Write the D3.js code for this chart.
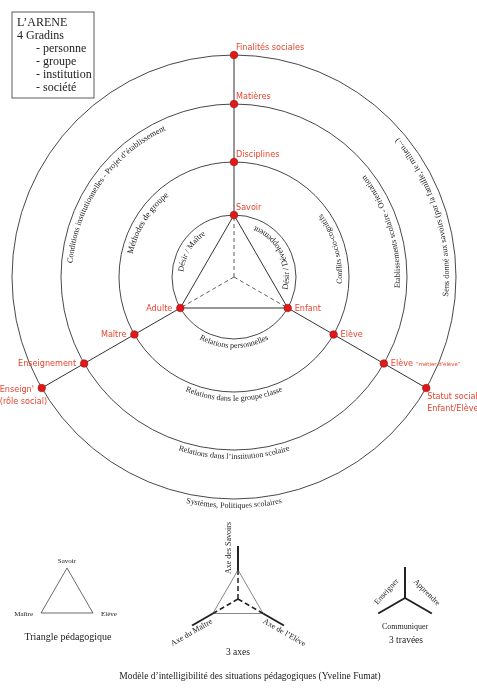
<!DOCTYPE html>
<html>
<head>
<meta charset="utf-8">
<script src="https://cdn.jsdelivr.net/npm/d3@7"></script>
<style>
  body { margin: 0; background: #fff; }
  svg { display: block; will-change: transform; }
  .serif { font-family: "Liberation Serif", "Times New Roman", serif; fill: #222; }
  .pole { font-family: "DejaVu Sans", sans-serif; fill: #e8432d; }
</style>
</head>
<body>
<svg id="chart" width="477" height="689"></svg>
<script>
// gradins (rings) and the three axes
const gradins = ["personne", "groupe", "institution", "société"];
const axes = ["Savoir", "Elève", "Maître"];

// pole labels, one per gradin, for each axis
const poleSavoir = ["Savoir", "Disciplines", "Matières", "Finalités sociales"];
const poleEleve = ["Enfant", "Elève", "Elève", "Statut social"];
const poleMaitre = ["Adulte", "Maître", "Enseignement", "Enseign'"];
const sousEleve = ["", "", "“métier d'élève”", "Enfant/Elève"];
const sousMaitre = ["", "", "", "(rôle social)"];

// texts written along the rings
const arcGauche = ["Désir / Maître", "Méthodes de groupe", "Conditions institutionnelles - Projet d’établissement", ""];
const arcDroite = ["Désir / Développement", "Conflits socio-cognitifs", "Etablissements scolaire - Orientation", "Sens donné aux savoirs (par la famille, le milieu...)"];
const arcBas = ["Relations personnelles", "Relations dans le groupe classe", "Relations dans l’institution scolaire", "Systèmes, Politiques scolaires"];

const legendeTitre = ["L’ARENE", "4 Gradins"];
const triangleLabels = ["Savoir", "Elève", "Maître"];
const axesLabels = ["Axe des Savoirs", "Axe de l’Elève", "Axe du Maître"];
const traveesLabels = ["Apprendre", "Communiquer", "Enseigner"];
const legendes = ["Triangle pédagogique", "3 axes", "3 travées"];
const titre = "Modèle d’intelligibilité des situations pédagogiques (Yveline Fumat)";

const svg = d3.select("#chart");
const cx = 234, cy = 277;

const rScale = d3.scaleOrdinal().domain(gradins).range([62, 115, 173, 222]);
const aScale = d3.scaleOrdinal().domain(axes).range([-90, 30, 150]);
const rad = d => d * Math.PI / 180;
const pt = (r, deg, x0 = cx, y0 = cy) => [x0 + r * Math.cos(rad(deg)), y0 + r * Math.sin(rad(deg))];

// rings
svg.selectAll("circle.ring").data(gradins).join("circle")
  .attr("class", "ring")
  .attr("cx", cx).attr("cy", cy).attr("r", d => rScale(d))
  .attr("fill", "none").attr("stroke", "#333").attr("stroke-width", 0.9);

// radial lines from inner to outer ring
svg.selectAll("line.axe").data(axes).join("line")
  .attr("class", "axe")
  .attr("x1", d => pt(rScale(gradins[0]), aScale(d))[0])
  .attr("y1", d => pt(rScale(gradins[0]), aScale(d))[1])
  .attr("x2", d => pt(rScale(gradins[3]), aScale(d))[0])
  .attr("y2", d => pt(rScale(gradins[3]), aScale(d))[1])
  .attr("stroke", "#333").attr("stroke-width", 1);

// dashed lines to the centre
svg.selectAll("line.dash").data(axes).join("line")
  .attr("class", "dash")
  .attr("x1", cx).attr("y1", cy)
  .attr("x2", d => pt(rScale(gradins[0]), aScale(d))[0])
  .attr("y2", d => pt(rScale(gradins[0]), aScale(d))[1])
  .attr("stroke", "#333").attr("stroke-width", 0.8).attr("stroke-dasharray", "4,3");

// inner triangle
svg.append("path")
  .attr("d", d3.line()(axes.map(a => pt(rScale(gradins[0]), aScale(a)))) + "Z")
  .attr("fill", "none").attr("stroke", "#333").attr("stroke-width", 1);

// ring texts
const defs = svg.append("defs");
function arcText(id, r, mid, half, ccw, txt, size) {
  if (!txt) return;
  const p = d3.path();
  const a0 = ccw ? mid + half : mid - half;
  const a1 = ccw ? mid - half : mid + half;
  p.arc(cx, cy, r, rad(a0), rad(a1), ccw);
  defs.append("path").attr("id", id).attr("d", p.toString());
  svg.append("text").attr("class", "serif").attr("font-size", size)
    .append("textPath").attr("href", "#" + id)
    .attr("startOffset", "50%").attr("text-anchor", "middle")
    .text(txt);
}
const midGauche = [211, 212, 215, 215];
const midDroite = [-27, -16, -17, -17.5];
const sizeGauche = [8, 8.6, 8.2, 8];
const sizeDroite = [8.4, 7.9, 8.2, 8.4];
gradins.forEach((gname, i) => {
  const r = rScale(gname);
  arcText("g" + i, r - 11, midGauche[i], 80, false, arcGauche[i], sizeGauche[i]);
  arcText("d" + i, r - 7, midDroite[i], 80, true, arcDroite[i], sizeDroite[i]);
  arcText("b" + i, r + 9, 90, 55, true, arcBas[i], 8);
});

// pole dots and labels
const poleLists = [poleSavoir, poleEleve, poleMaitre];
const sousLists = [["", "", "", ""], sousEleve, sousMaitre];
const nodes = axes.flatMap((a, i) => gradins.map((gname, j) => {
  const [x, y] = pt(rScale(gname), aScale(a));
  return { axe: a, j, x, y, label: poleLists[i][j], sous: sousLists[i][j] };
}));

svg.selectAll("circle.dot").data(nodes).join("circle")
  .attr("class", "dot")
  .attr("cx", d => d.x).attr("cy", d => d.y).attr("r", 3.8)
  .attr("fill", "#e0191b").attr("stroke", "#9a1010").attr("stroke-width", 0.6);

const place = {
  "Savoir": j => ({ dx: 2, dy: -5, anchor: "start" }),
  "Elève": j => j === 3 ? { dx: 1, dy: 11, anchor: "start" } : { dx: 7, dy: 2.5, anchor: "start" },
  "Maître": j => j === 3 ? { dx: -42, dy: 4, anchor: "start" } : { dx: -8, dy: 2.5, anchor: "end" }
};
nodes.forEach(d => {
  const o = place[d.axe](d.j);
  const t = svg.append("text").attr("class", "pole").attr("font-size", 8.1)
    .attr("x", d.x + o.dx).attr("y", d.y + o.dy).attr("text-anchor", o.anchor);
  t.append("tspan").text(d.label);
  if (d.sous && d.j === 2) {
    t.append("tspan").attr("font-size", 5.4).attr("dx", 3).text(d.sous);
  } else if (d.sous) {
    t.append("tspan").attr("x", d.x + o.dx).attr("dy", 12).text(d.sous);
  }
});

// legend box
svg.append("rect").attr("x", 12).attr("y", 12).attr("width", 82).attr("height", 86)
  .attr("fill", "#fff").attr("stroke", "#333").attr("stroke-width", 0.8);
const leg = legendeTitre.map(t => ({ t, x: 17 })).concat(gradins.map(t => ({ t: "- " + t, x: 36 })));
svg.selectAll("text.leg").data(leg).join("text")
  .attr("class", "serif leg").attr("font-size", 12)
  .attr("x", d => d.x).attr("y", (d, i) => 26 + i * 13)
  .text(d => d.t);

// small figure 1: triangle pédagogique
const t1 = [67, 598], t2 = [238, 599], t3 = [405, 598];
svg.append("path")
  .attr("d", d3.line()(axes.map(a => pt(30, aScale(a), t1[0], t1[1]))) + "Z")
  .attr("fill", "none").attr("stroke", "#444").attr("stroke-width", 0.8);
const triPlace = {
  "Savoir": { dx: 0, dy: -5, anchor: "middle" },
  "Elève": { dx: 8, dy: 3, anchor: "start" },
  "Maître": { dx: -8, dy: 3, anchor: "end" }
};
svg.selectAll("text.tri").data(axes).join("text")
  .attr("class", "serif tri").attr("font-size", 7)
  .attr("x", d => pt(30, aScale(d), t1[0], t1[1])[0] + triPlace[d].dx)
  .attr("y", d => pt(30, aScale(d), t1[0], t1[1])[1] + triPlace[d].dy)
  .attr("text-anchor", d => triPlace[d].anchor)
  .text((d, i) => triangleLabels[i]);

// small figure 2: 3 axes
svg.append("path")
  .attr("d", d3.line()(axes.map(a => pt(29, aScale(a), t2[0], t2[1]))) + "Z")
  .attr("fill", "none").attr("stroke", "#555").attr("stroke-width", 0.7);
svg.selectAll("line.ax3").data(axes).join("line")
  .attr("x1", d => pt(29, aScale(d), t2[0], t2[1])[0])
  .attr("y1", d => pt(29, aScale(d), t2[0], t2[1])[1])
  .attr("x2", d => pt(53, aScale(d), t2[0], t2[1])[0])
  .attr("y2", d => pt(53, aScale(d), t2[0], t2[1])[1])
  .attr("stroke", "#222").attr("stroke-width", 2);
svg.selectAll("line.ax3d").data(axes).join("line")
  .attr("x1", t2[0]).attr("y1", t2[1])
  .attr("x2", d => pt(29, aScale(d), t2[0], t2[1])[0])
  .attr("y2", d => pt(29, aScale(d), t2[0], t2[1])[1])
  .attr("stroke", "#222").attr("stroke-width", 1.5).attr("stroke-dasharray", "5,3");
const axPlace = {
  "Savoir": { rot: -90, off: [-7, 0], along: 51 },
  "Elève": { rot: 30, off: [-4, 7], along: 57 },
  "Maître": { rot: -30, off: [4, 7], along: 57 }
};
svg.selectAll("text.ax3").data(axes).join("text")
  .attr("class", "serif ax3").attr("font-size", 8).attr("text-anchor", "middle")
  .attr("transform", d => {
    const p = pt(axPlace[d].along, aScale(d), t2[0], t2[1]);
    return `translate(${p[0] + axPlace[d].off[0]},${p[1] + axPlace[d].off[1]}) rotate(${axPlace[d].rot})`;
  })
  .text((d, i) => axesLabels[i]);

// small figure 3: 3 travées
svg.selectAll("line.trav").data(axes).join("line")
  .attr("x1", t3[0]).attr("y1", t3[1])
  .attr("x2", d => pt(31, aScale(d), t3[0], t3[1])[0])
  .attr("y2", d => pt(31, aScale(d), t3[0], t3[1])[1])
  .attr("stroke", "#222").attr("stroke-width", 2);
const travPlace = [
  { ang: -15, r: 23, rot: 45 },
  { ang: 90, r: 28, rot: 0 },
  { ang: 200, r: 20, rot: -48 }
];
svg.selectAll("text.trav").data(traveesLabels).join("text")
  .attr("class", "serif trav").attr("font-size", 8).attr("text-anchor", "middle").attr("dy", "0.35em")
  .attr("transform", (d, i) => {
    const p = pt(travPlace[i].r, travPlace[i].ang, t3[0], t3[1]);
    return `translate(${p[0]},${p[1]}) rotate(${travPlace[i].rot})`;
  })
  .text(d => d);

// captions
const capPos = [[68, 640, 10], [238, 655, 9.5], [406, 643, 9.5]];
svg.selectAll("text.cap").data(legendes).join("text")
  .attr("class", "serif cap").attr("text-anchor", "middle")
  .attr("x", (d, i) => capPos[i][0]).attr("y", (d, i) => capPos[i][1])
  .attr("font-size", (d, i) => capPos[i][2])
  .text(d => d);

svg.append("text").attr("class", "serif").attr("font-size", 9.5)
  .attr("x", 250).attr("y", 679).attr("text-anchor", "middle")
  .text(titre);
</script>
</body>
</html>
